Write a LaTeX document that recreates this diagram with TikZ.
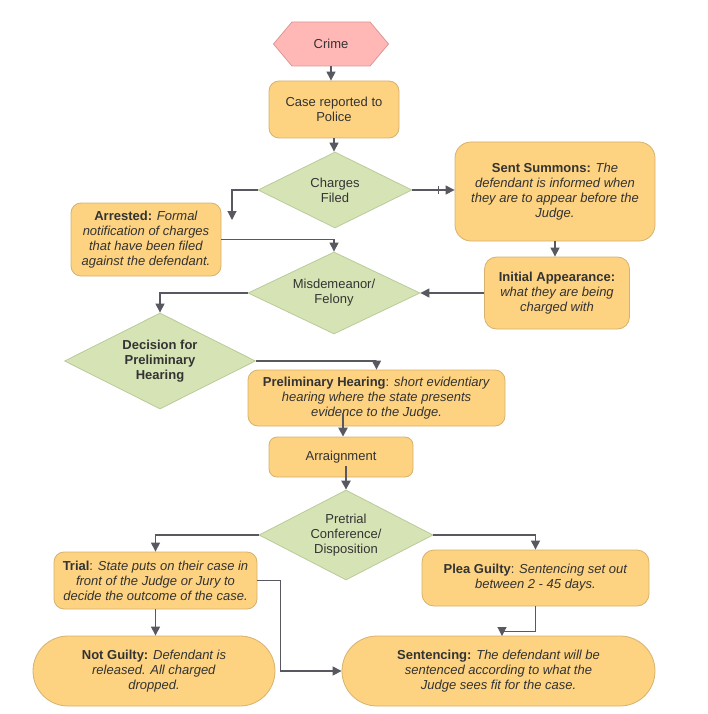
\documentclass[tikz,border=0pt]{standalone}
\usepackage{fontspec}
\setmainfont{Liberation Sans}
\usetikzlibrary{shapes.geometric,shapes.symbols,arrows.meta,decorations.markings}

\definecolor{boxfill}{RGB}{253,210,128}
\definecolor{boxline}{RGB}{214,178,110}
\definecolor{diafill}{RGB}{214,228,181}
\definecolor{dialine}{RGB}{186,202,154}
\definecolor{crimefill}{RGB}{255,184,182}
\definecolor{crimeline}{RGB}{222,150,148}
\definecolor{linegray}{RGB}{88,88,96}
\definecolor{textgray}{RGB}{51,51,51}

\tikzset{
  every node/.style={font=\fontsize{13}{15}\selectfont, text=textgray, align=center, inner sep=1pt},
  procbox/.style={draw=boxline, fill=boxfill, line width=0.8pt, rounded corners=10pt},
  endbox/.style={procbox, rounded corners=35pt},
  choice/.style={diamond, aspect=2, draw=dialine, fill=diafill, line width=0.8pt, inner sep=0pt},
  crimebox/.style={signal, signal to=west and east, signal pointer angle=100, draw=crimeline, fill=crimefill, line width=0.8pt},
  link/.style={draw=linegray, line width=1.1pt, -{Triangle[length=9pt,width=9pt]}},
  ticked/.style={postaction={decorate}, decoration={markings, mark=at position 26pt with {\draw[-, linegray, line width=1.1pt] (0,-4pt) -- (0,4pt);}}}
}

\begin{document}
\begin{tikzpicture}[x=1pt,y=-1pt]
\useasboundingbox (0,0) rectangle (708,714);

% Top of the flow
\node[crimebox, minimum width=115, minimum height=44] (crime) at (331,44) {Crime};
\node[procbox, minimum width=130, minimum height=57] (case) at (334,109.5) {Case reported to\\Police};
\node[choice, minimum width=154, minimum height=76] (charges) at (335,190) {Charges\\Filed};

% Two ways after charges
\node[procbox, minimum width=150, minimum height=73] (arrested) at (146,239.5)
  {\textbf{Arrested:} \textit{Formal}\\\textit{notification of charges}\\\textit{that have been filed}\\\textit{against the defendant.}};
\node[procbox, rounded corners=16pt, minimum width=200, minimum height=99] (summons) at (555,191.5)
  {\textbf{Sent Summons:} \textit{The}\\\textit{defendant is informed when}\\\textit{they are to appear before the}\\\textit{Judge.}};
\node[procbox, rounded corners=12pt, minimum width=145, minimum height=72] (initial) at (557,293)
  {\textbf{Initial Appearance:}\\\textit{what they are being}\\\textit{charged with}};
\node[choice, minimum width=172, minimum height=82] (misd) at (334,293) {Misdemeanor/\\Felony};

% Hearing
\node[choice, minimum width=191, minimum height=96] (decision) at (160,361) {\textbf{Decision for}\\\textbf{Preliminary}\\\textbf{Hearing}};
\node[procbox, minimum width=257, minimum height=56] (prelim) at (376.5,398)
  {\textbf{Preliminary Hearing}: \textit{short evidentiary}\\\textit{hearing where the state presents}\\\textit{evidence to the Judge.}};
\node[procbox, rounded corners=8pt, minimum width=144, minimum height=40] (arraign) at (341,457) {Arraignment};
\node[choice, minimum width=174, minimum height=90] (pretrial) at (346,535) {Pretrial\\Conference/\\Disposition};

% Outcomes
\node[procbox, minimum width=203, minimum height=57] (trial) at (155.5,580.5)
  {\textbf{Trial}: \textit{State puts on their case in}\\\textit{front of the Judge or Jury to}\\\textit{decide the outcome of the case.}};
\node[procbox, rounded corners=12pt, minimum width=227, minimum height=56] (plea) at (535.5,578)
  {\textbf{Plea Guilty}: \textit{Sentencing set out}\\\textit{between 2 - 45 days.}};
\node[endbox, minimum width=242, minimum height=70] (notguilty) at (154,671)
  {\textbf{Not Guilty:} \textit{Defendant is}\\\textit{released. All charged}\\\textit{dropped.}};
\node[endbox, minimum width=313, minimum height=70] (sentencing) at (498.5,671)
  {\textbf{Sentencing:} \textit{The defendant will be}\\\textit{sentenced according to what the}\\\textit{Judge sees fit for the case.}};

% Free ends of some connectors
\coordinate (armark) at (232,220);
\coordinate (pstart) at (343,413);
\coordinate (astart) at (346,466);
\coordinate (sentin) at (502,636);

% Connectors
\draw[link] (crime.south) -- (crime.south |- case.north);
\draw[link] (case.south) -- (case.south |- charges.north);
\draw[link] (charges.west) -| (armark);
\draw[link, ticked] (charges.east) -- (charges.east -| summons.west);
\draw[link] (arrested.east) -| (misd.north);
\draw[link] (summons.south) -- (summons.south |- initial.north);
\draw[link] (initial.west) -- (misd.east);
\draw[link] (misd.west) -| (decision.north);
\draw[link] (decision.east) -| (prelim.north);
\draw[link, line width=2.4pt] (pstart) -- (pstart |- arraign.north);
\draw[link, line width=2.4pt] (astart) -- (astart |- pretrial.north);
\draw[link] (pretrial.west) -| (trial.north);
\draw[link] (pretrial.east) -| (plea.north);
\draw[link] (trial.east) -- ++(23,0) |- (sentencing.west);
\draw[link] (trial.south) -- (trial.south |- notguilty.north);
\draw[link] (plea.south) -- ++(0,25) -| (sentin);
\end{tikzpicture}
\end{document}
